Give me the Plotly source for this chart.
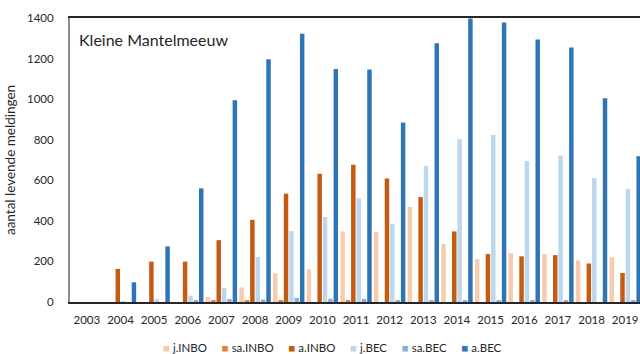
import plotly.graph_objects as go

years = [str(y) for y in range(2003, 2020)]

j_inbo  = [0, 0, 0, 0, 25, 72, 141, 161, 348, 346, 468, 287, 212, 241, 236, 205, 220]
sa_inbo = [0, 0, 0, 0, 5, 5, 5, 0, 5, 0, 0, 0, 0, 0, 0, 0, 0]
a_inbo  = [0, 163, 199, 199, 305, 405, 534, 632, 676, 609, 517, 348, 236, 225, 231, 190, 143]
j_bec   = [0, 4, 15, 31, 69, 222, 350, 419, 511, 386, 671, 803, 823, 695, 722, 611, 557]
sa_bec  = [0, 0, 0, 5, 15, 12, 20, 16, 15, 10, 5, 10, 5, 8, 5, 0, 5]
a_bec   = [0, 97, 274, 560, 995, 1197, 1322, 1148, 1146, 885, 1276, 1398, 1378, 1294, 1255, 1005, 719]

series = [
    ("j.INBO", j_inbo, "#F8CBAD"),
    ("sa.INBO", sa_inbo, "#ED7D31"),
    ("a.INBO", a_inbo, "#C55A11"),
    ("j.BEC", j_bec, "#BDD7EE"),
    ("sa.BEC", sa_bec, "#8FAADC"),
    ("a.BEC", a_bec, "#2E75B6"),
]

FONT = "Lato"
TXT = "#262626"
fig = go.Figure()
for name, vals, col in series:
    fig.add_trace(go.Bar(x=years, y=vals, name=name, marker_color=col,
                         marker_line_width=0, showlegend=False))

fig.update_layout(
    width=640, height=354,
    margin=dict(l=70, r=0, t=18, b=52),
    paper_bgcolor="white", plot_bgcolor="white",
    barmode="group", bargap=0.04, bargroupgap=0.17,
    font=dict(family=FONT, size=11.5, color=TXT),
    showlegend=False,
)
fig.update_xaxes(type="category", range=[-0.5, 16.44], showline=True, mirror=True,
                 linecolor=TXT, linewidth=2, ticks="", showgrid=False, automargin=False,
                 ticklabelstandoff=6, tickfont=dict(size=11.5, color=TXT))
fig.update_yaxes(range=[0, 1400], dtick=200, showline=True, linecolor="#8c8c8c",
                 linewidth=2, ticks="", showgrid=False, zeroline=False, automargin=False,
                 ticklabelstandoff=12, tickfont=dict(size=11.5, color=TXT),
                 title=dict(text="aantal levende meldingen", standoff=8,
                            font=dict(size=13.5, color=TXT)))
fig.add_annotation(text="Kleine Mantelmeeuw", xref="paper", yref="paper",
                   x=0.012, y=0.926, xanchor="left", yanchor="middle",
                   showarrow=False, font=dict(family=FONT, size=16, color=TXT))

# legend drawn as a text line of coloured squares + series names
sp = "\u00a0"
parts = []
for name, _, col in series:
    parts.append(f"<span style='color:{col}'>\u25A0</span>{sp}{name}")
legend_text = (sp * 5).join(parts)
fig.add_annotation(text=legend_text, xref="paper", yref="paper",
                   x=(332 - 70) / 570, y=-(347 - 302) / 284, xanchor="center", yanchor="middle",
                   showarrow=False, font=dict(family=FONT, size=11.5, color=TXT))

fig.write_html("out.html", config={"displayModeBar": False},
               post_script="document.body.style.margin='0';document.body.style.overflow='hidden';")
